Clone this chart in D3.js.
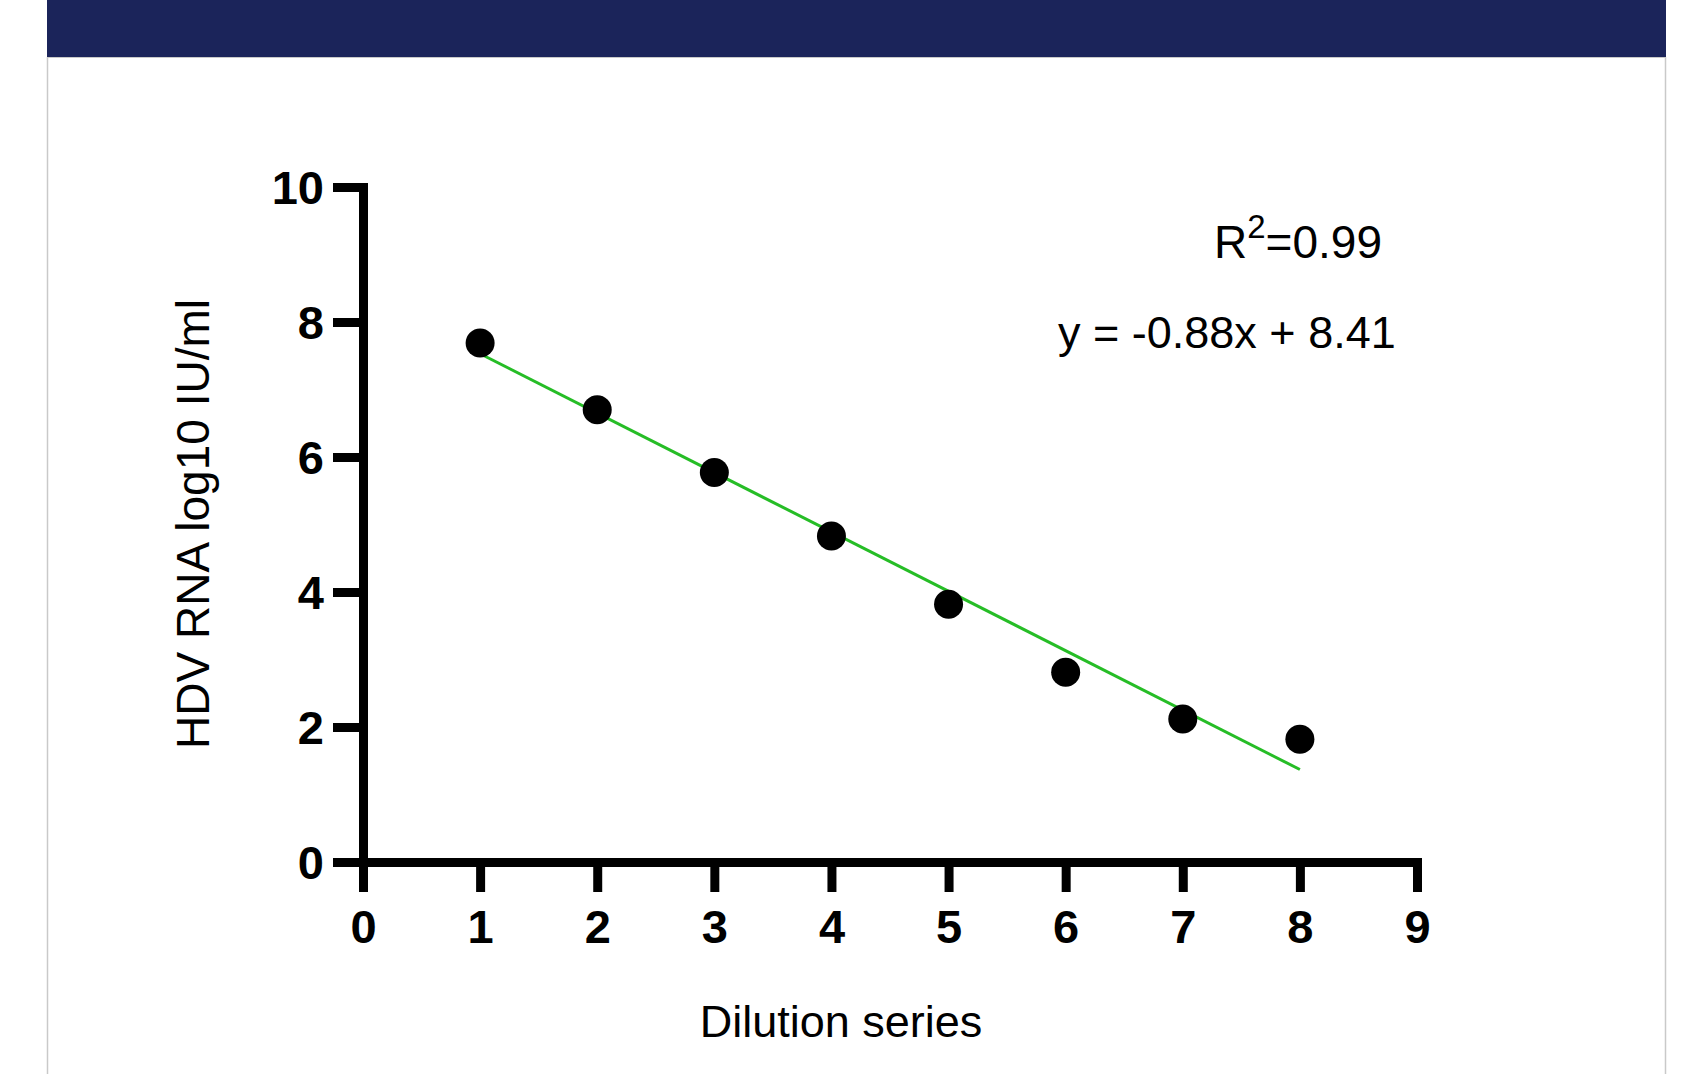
<!DOCTYPE html>
<html>
<head>
<meta charset="utf-8">
<title>HDV RNA dilution series</title>
<script src="https://cdn.jsdelivr.net/npm/d3@7"></script>
<style>
    html, body { margin: 0; padding: 0; background: #ffffff; }
    svg { display: block; }
    text { font-family: "Liberation Sans", Arial, sans-serif; fill: #000; }
</style>
</head>
<body>
<svg id="chart"></svg>
<script>
// chart values
const dilution = [1, 2, 3, 4, 5, 6, 7, 8];
const hdvLog10 = [7.69, 6.70, 5.77, 4.83, 3.82, 2.81, 2.12, 1.82];
const xTicks = [0, 1, 2, 3, 4, 5, 6, 7, 8, 9];
const yTicks = [0, 2, 4, 6, 8, 10];
const fitSlope = -0.88;
const fitIntercept = 8.41;
const fitRange = [1, 8];
const rSquaredText = "0.99";
const equationText = "y = -0.88x + 8.41";

const width = 1685;
const height = 1074;

const svg = d3.select("#chart")
    .attr("width", width)
    .attr("height", height);

// card with the dark banner on top
const cardLeft = 47;
const cardRight = 1666;
svg.append("rect")
    .attr("x", cardLeft)
    .attr("y", 0)
    .attr("width", cardRight - cardLeft)
    .attr("height", 57)
    .attr("fill", "#1b245a");
svg.append("line")
    .attr("x1", cardLeft).attr("x2", cardRight)
    .attr("y1", 57.5).attr("y2", 57.5)
    .attr("stroke", "#c9c9c9").attr("stroke-width", 1);
svg.append("line")
    .attr("x1", cardLeft + 0.5).attr("x2", cardLeft + 0.5)
    .attr("y1", 57).attr("y2", height)
    .attr("stroke", "#c9c9c9").attr("stroke-width", 1.5);
svg.append("line")
    .attr("x1", cardRight - 0.5).attr("x2", cardRight - 0.5)
    .attr("y1", 57).attr("y2", height)
    .attr("stroke", "#c9c9c9").attr("stroke-width", 1.5);

// scales
const x = d3.scaleLinear()
    .domain([0, 9])
    .range([363, 1417]);

const y = d3.scaleLinear()
    .domain([0, 10])
    .range([862, 187]);

const axisStroke = 9;

// vertical axis
svg.append("g")
    .attr("transform", `translate(${x(0)},0)`)
    .call(d3.axisLeft(y).tickValues(yTicks).tickSize(30).tickSizeOuter(0).tickPadding(9))
    .call(g => g.select(".domain")
        .attr("stroke", "#000")
        .attr("stroke-width", axisStroke)
        .attr("stroke-linecap", "square"))
    .call(g => g.selectAll(".tick line")
        .attr("stroke", "#000")
        .attr("stroke-width", axisStroke))
    .call(g => g.selectAll(".tick text")
        .attr("font-family", "'Liberation Sans', Arial, sans-serif")
        .attr("font-size", 47)
        .attr("font-weight", "bold")
        .attr("dy", "0.36em")
        .attr("fill", "#000"));

// horizontal axis
svg.append("g")
    .attr("transform", `translate(0,${y(0)})`)
    .call(d3.axisBottom(x).tickValues(xTicks).tickSize(30).tickSizeOuter(0).tickPadding(51))
    .call(g => g.select(".domain")
        .attr("stroke", "#000")
        .attr("stroke-width", axisStroke)
        .attr("stroke-linecap", "square"))
    .call(g => g.selectAll(".tick line")
        .attr("stroke", "#000")
        .attr("stroke-width", axisStroke))
    .call(g => g.selectAll(".tick text")
        .attr("font-family", "'Liberation Sans', Arial, sans-serif")
        .attr("font-size", 47)
        .attr("font-weight", "bold")
        .attr("dy", "0")
        .attr("fill", "#000"));

// regression line
const fitLine = d3.line()
    .x(d => x(d))
    .y(d => y(fitSlope * d + fitIntercept));

svg.append("path")
    .datum(fitRange)
    .attr("d", fitLine)
    .attr("fill", "none")
    .attr("stroke", "#26bd26")
    .attr("stroke-width", 3);

// data points
svg.append("g")
    .selectAll("circle")
    .data(dilution)
    .join("circle")
    .attr("cx", d => x(d))
    .attr("cy", (d, i) => y(hdvLog10[i]))
    .attr("r", 14.5)
    .attr("fill", "#000");

// annotations
const rText = svg.append("text")
    .attr("x", 1214)
    .attr("y", 258)
    .attr("font-size", 46);
rText.append("tspan").text("R");
rText.append("tspan")
    .attr("font-size", 33)
    .attr("dy", -20)
    .text("2");
rText.append("tspan")
    .attr("dy", 20)
    .text("=" + rSquaredText);

svg.append("text")
    .attr("x", 1058)
    .attr("y", 348)
    .attr("font-size", 45)
    .text(equationText);

// axis titles
svg.append("text")
    .attr("text-anchor", "middle")
    .attr("x", 841)
    .attr("y", 1037)
    .attr("font-size", 45)
    .text("Dilution series");

svg.append("text")
    .attr("text-anchor", "middle")
    .attr("transform", "translate(209,524) rotate(-90)")
    .attr("font-size", 46)
    .text("HDV RNA log10 IU/ml");
</script>
</body>
</html>
